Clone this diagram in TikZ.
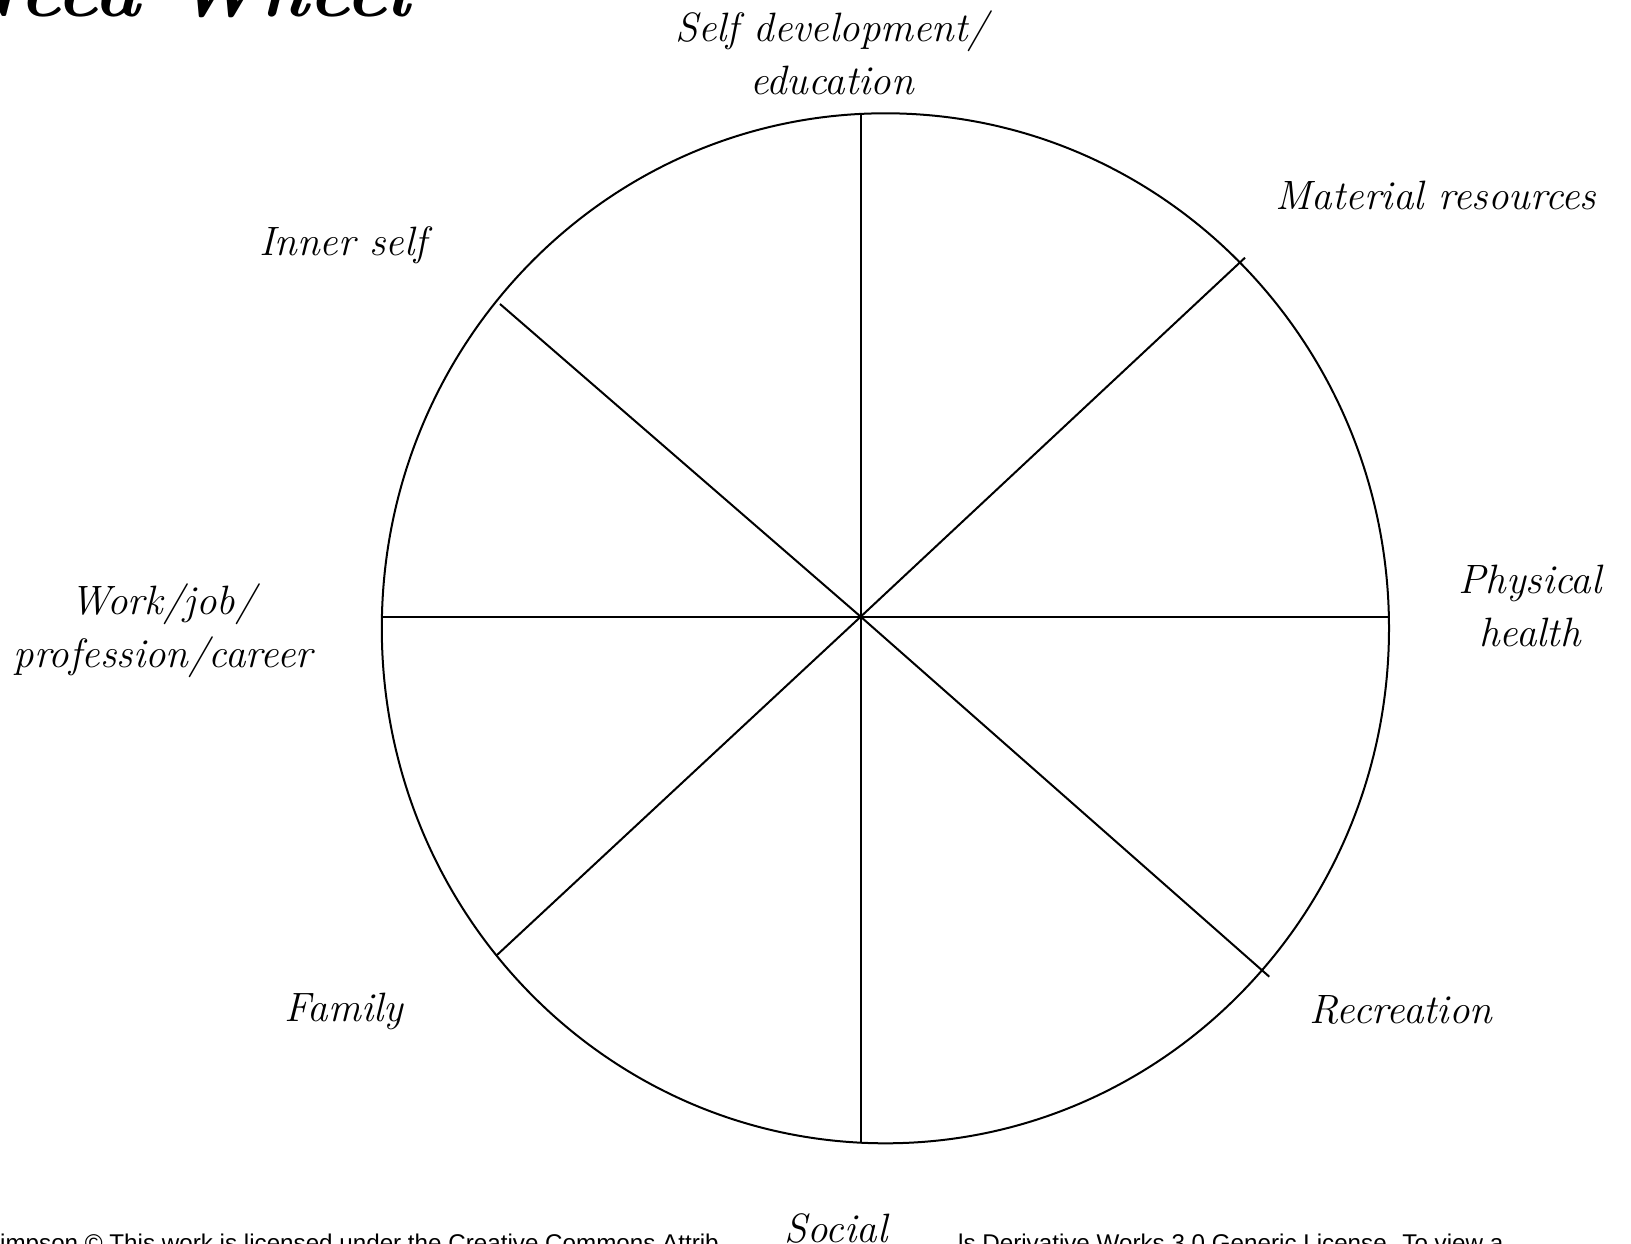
\documentclass[tikz,border=0pt]{standalone}
\usepackage{fontspec}
\newfontfamily\footfont{Liberation Sans}
\begin{document}
\begin{tikzpicture}[x=1pt,y=-1pt,
  wheel/.style={line width=2pt,black},
  lbl/.style={font=\fontsize{41}{53}\selectfont\itshape,align=center,inner sep=0pt},
  foot/.style={font=\footfont\fontsize{24.2}{28}\selectfont,inner sep=0pt}]
\fill[white] (0,0) rectangle (1631,1244);
\useasboundingbox (0,0) rectangle (1631,1244);
% title (cut at top edge)
\node[anchor=base east,inner sep=0pt,font=\fontsize{78}{80}\selectfont\bfseries\itshape] (title) at (410,17) {Need Wheel};
% wheel
\coordinate (C) at (860.7,616.7);
\coordinate (N) at (860.7,113.9);
\coordinate (S) at (860.7,1143);
\coordinate (W) at (381.7,616.7);
\coordinate (E) at (1389,616.7);
\coordinate (NE) at (1245,257.7);
\coordinate (SE) at (1269.3,976.7);
\coordinate (NW) at (500,304);
\coordinate (SW) at (497,955);
\draw[wheel] (885.4,628.3) ellipse [x radius=503.6,y radius=515];
\foreach \p in {N,S,W,E,NE,SE,NW,SW} \draw[wheel] (C) -- (\p);
% labels
\node[lbl] (selfdev) at (832,53) {Self development/\\education};
\node[lbl] (material) at (1436,195) {Material resources};
\node[lbl] (inner) at (343,245) {Inner self};
\node[lbl] (physical) at (1530,606) {Physical\\health};
\node[lbl] (work) at (163,631) {Work/job/\\profession/career};
\node[lbl] (family) at (344,1011) {Family};
\node[lbl] (recreation) at (1401,1010) {Recreation};
% footer (cut at bottom edge)
\node[foot,anchor=base west] (footL) at (0,1251) {impson \textcopyright{} This work is licensed under the Creative Commons Attrib};
\node[foot,anchor=base west] (footR) at (958,1251) {ls Derivative Works 3.0 Generic License. To view a};
\node[lbl,fill=white,inner sep=2pt] (social) at (836,1228) {Social};
\end{tikzpicture}
\end{document}
